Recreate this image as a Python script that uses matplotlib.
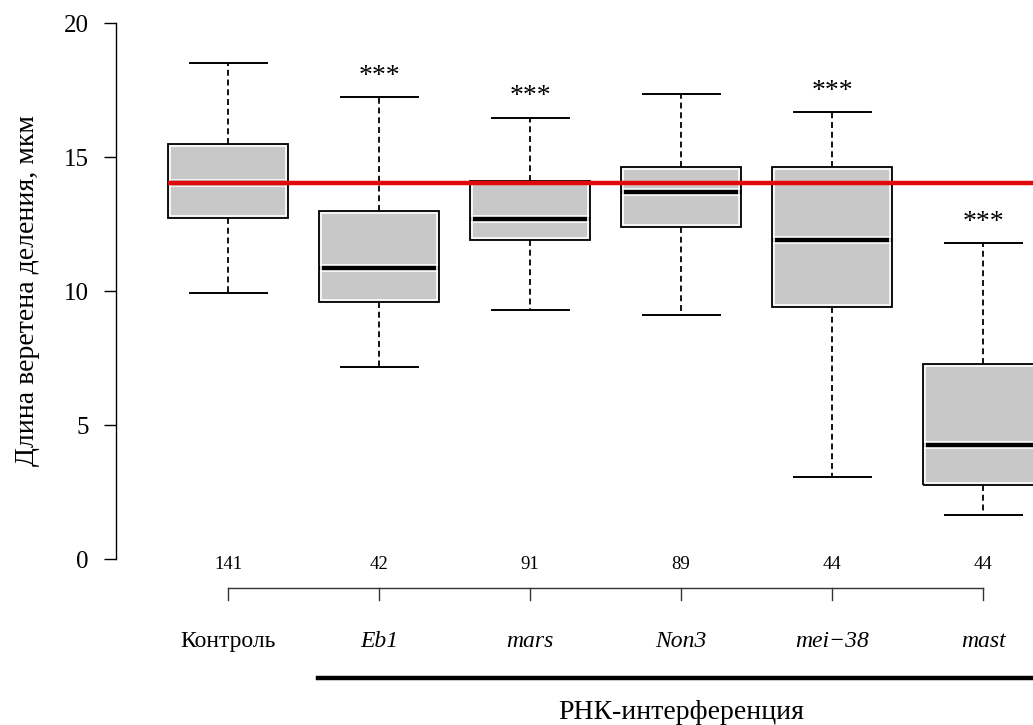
import matplotlib
matplotlib.use('Agg')
import matplotlib.pyplot as plt
import matplotlib.patheffects as pe
from matplotlib.patches import Rectangle

plt.rcParams['font.family'] = ['Liberation Serif', 'DejaVu Serif']

# data (spindle length, um)
groups = ['Контроль', 'Eb1', 'mars', 'Non3', 'mei\u221238', 'mast']
italic = [False, True, True, True, True, True]
n_cells = [141, 42, 91, 89, 44, 44]
whislo = [9.93, 7.16, 9.29, 9.10, 3.06, 1.64]
q1 = [12.72, 9.59, 11.90, 12.39, 9.40, 2.76]
med = [14.03, 10.86, 12.69, 13.69, 11.90, 4.25]
q3 = [15.49, 12.99, 14.10, 14.63, 14.63, 7.28]
whishi = [18.51, 17.24, 16.46, 17.35, 16.68, 11.79]
signif = ['', '***', '***', '', '***', '***']

stats = []
for i in range(len(groups)):
    stats.append(dict(label=groups[i], whislo=whislo[i], q1=q1[i], med=med[i],
                      q3=q3[i], whishi=whishi[i], fliers=[]))

pos = list(range(len(groups)))
bw = 0.8

fig = plt.figure(figsize=(10.33, 7.25), dpi=100)
ax = fig.add_axes([116/1033, 166/725, 917/1033, 536/725])

bp = ax.bxp(stats, positions=pos, widths=bw, capwidths=0.51, patch_artist=True,
            showfliers=False,
            boxprops=dict(facecolor='#c8c8c8', edgecolor='none'),
            whiskerprops=dict(color='black', lw=1.3, ls=(0, (3.3, 2.1))),
            capprops=dict(color='black', lw=1.4),
            medianprops=dict(color='black', lw=3.2, solid_capstyle='butt'))

for m in bp['medians']:
    m.set_path_effects([pe.Stroke(linewidth=5.5, foreground='white'), pe.Normal()])

# box outlines (white inner edge like the original render)
for i in pos:
    ax.add_patch(Rectangle((i - bw/2 + 0.014, q1[i] + 0.08), bw - 0.028, q3[i] - q1[i] - 0.16,
                           fill=False, edgecolor='white', lw=1.2, zorder=3))
    ax.add_patch(Rectangle((i - bw/2, q1[i]), bw, q3[i] - q1[i],
                           fill=False, edgecolor='black', lw=1.3, zorder=4))

# control median reference line
ax.hlines(med[0], pos[0] - bw/2, 6, color='#e00a0a', lw=3.2, zorder=5)

for i in pos:
    if signif[i]:
        ax.text(i, whishi[i] + 0.78, signif[i], ha='center', va='center', fontsize=20)
    ax.text(i, -0.2, str(n_cells[i]), ha='center', va='center', fontsize=13.5, clip_on=False)
    ax.text(i, -3.27, groups[i], ha='center', va='baseline', fontsize=17,
            style='italic' if italic[i] else 'normal', clip_on=False)

# lower category axis
ax.plot([pos[0], pos[-1]], [-1.08, -1.08], color='#333333', lw=1, clip_on=False)
for i in pos:
    ax.plot([i, i], [-1.08, -1.53], color='#333333', lw=1, clip_on=False)

# RNAi bracket
ax.plot([0.596, 6], [-4.44, -4.44], color='black', lw=3.2, clip_on=False)
ax.text(3.0, -5.97, 'РНК-интерференция', ha='center', va='baseline', fontsize=20, clip_on=False)

ax.set_xlim(-0.742, 5.331)
ax.set_ylim(0, 20)
ax.set_yticks([0, 5, 10, 15, 20])
ax.tick_params(axis='y', length=8.6, width=1, labelsize=18, pad=11)
ax.set_xticks([])
for s in ['top', 'right', 'bottom']:
    ax.spines[s].set_visible(False)
ax.spines['left'].set_linewidth(1)
ax.set_ylabel('Длина веретена деления, мкм', fontsize=20)
ax.yaxis.set_label_coords(-0.083, 0.5)

fig.savefig('out.png', dpi=100)
